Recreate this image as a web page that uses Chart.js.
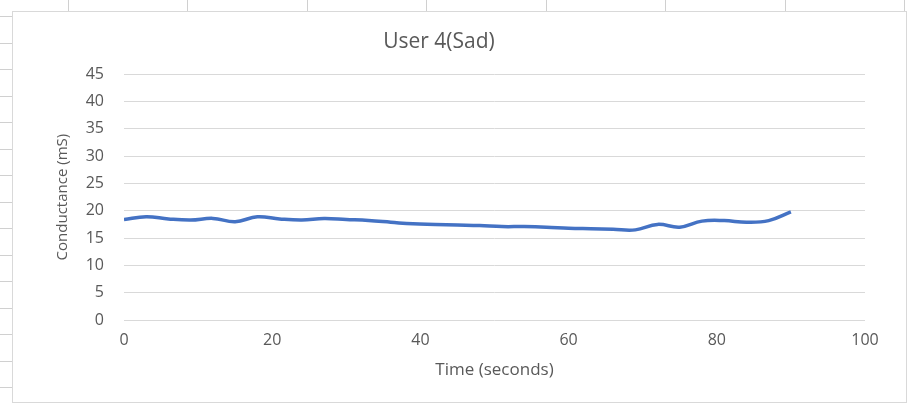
<!DOCTYPE html>
<html>
<head>
<meta charset="utf-8">
<script src="https://cdn.jsdelivr.net/npm/chart.js@4.4.1/dist/chart.umd.min.js"></script>
<style>
    html, body { margin: 0; padding: 0; background: #fff; }
    body { width: 907px; height: 404px; position: relative; overflow: hidden; }
    /* sheet cell marks peeking out around the chart frame */
    .sheet-top {
        position: absolute; left: 0; top: 0; width: 907px; height: 12px;
        background: repeating-linear-gradient(to right, transparent 0 68px, #d0d0d0 68px 69px, transparent 69px 119.5px);
    }
    .sheet-left {
        position: absolute; left: 0; top: 0; width: 12px; height: 404px;
        background: repeating-linear-gradient(to bottom, transparent 0 16px, #d0d0d0 16px 17px, transparent 17px 26.5px);
    }
    .frame {
        position: absolute; left: 12px; top: 11px; width: 893px; height: 390px;
        border: 1px solid #d9d9d9; background: #fff;
    }
</style>
</head>
<body>
<div class="sheet-top"></div>
<div class="sheet-left"></div>
<div class="frame"><canvas id="chart"></canvas></div>
<script>
// Chart data
const chartTitle = 'User 4(Sad)';
const xTitle = 'Time (seconds)';
const yTitle = 'Conductance (mS)';
const timeSeconds = [0, 3, 6, 9, 12, 15, 18, 21, 24, 27, 30, 33, 36, 39, 42, 45,
    48, 51, 54, 57, 60, 63, 66, 69, 72, 75, 78, 81, 84, 87, 90];
const conductance = [18.4, 18.9, 18.5, 18.3, 18.6, 18.0, 18.9, 18.5, 18.3, 18.6, 18.4, 18.2, 17.9, 17.6, 17.5, 17.4,
    17.3, 17.1, 17.1, 17.0, 16.8, 16.7, 16.6, 16.5, 17.5, 17.0, 18.1, 18.2, 17.9, 18.2, 19.8];
const xTicks = { min: 0, max: 100, step: 20 };
const yTicks = { min: 0, max: 45, step: 5 };

const textColor = '#595959';
const fontFamily = '"Open Sans", "Liberation Sans", sans-serif';

const points = timeSeconds.map((t, i) => ({ x: t, y: conductance[i] }));

const ctx = document.getElementById('chart').getContext('2d');
new Chart(ctx, {
    type: 'line',
    data: {
        datasets: [{
            label: 'Conductance',
            data: points,
            borderColor: '#4472C4',
            borderWidth: 3.5,
            pointRadius: 0,
            tension: 0.4,
            fill: false
        }]
    },
    options: {
        responsive: true,
        maintainAspectRatio: false,
        animation: false,
        layout: { padding: { left: 0, right: 41, top: 0, bottom: 0 } },
        plugins: {
            legend: { display: false },
            tooltip: { enabled: false },
            title: {
                display: true,
                text: chartTitle,
                color: textColor,
                font: { family: fontFamily, size: 21, weight: 'normal' },
                padding: { top: 17, bottom: 20 }
            }
        },
        scales: {
            x: {
                type: 'linear',
                min: xTicks.min,
                max: xTicks.max,
                grid: { display: false, drawTicks: false },
                border: { display: false },
                ticks: {
                    stepSize: xTicks.step,
                    color: textColor,
                    padding: 11,
                    maxRotation: 0,
                    font: { family: fontFamily, size: 16 }
                },
                title: {
                    display: true,
                    text: xTitle,
                    color: textColor,
                    font: { family: fontFamily, size: 17 },
                    padding: { top: 0, bottom: 22 }
                },
                afterFit: scale => { scale.height = 82; }
            },
            y: {
                min: yTicks.min,
                max: yTicks.max,
                grid: { color: '#d9d9d9', lineWidth: 1, drawTicks: false },
                border: { display: false },
                ticks: {
                    stepSize: yTicks.step,
                    color: textColor,
                    padding: 20,
                    font: { family: fontFamily, size: 16 }
                },
                title: {
                    display: true,
                    text: yTitle,
                    color: textColor,
                    font: { family: fontFamily, size: 15 },
                    padding: { top: 41, bottom: 0 }
                },
                afterFit: scale => { scale.width = 111; }
            }
        }
    }
});
</script>
</body>
</html>
